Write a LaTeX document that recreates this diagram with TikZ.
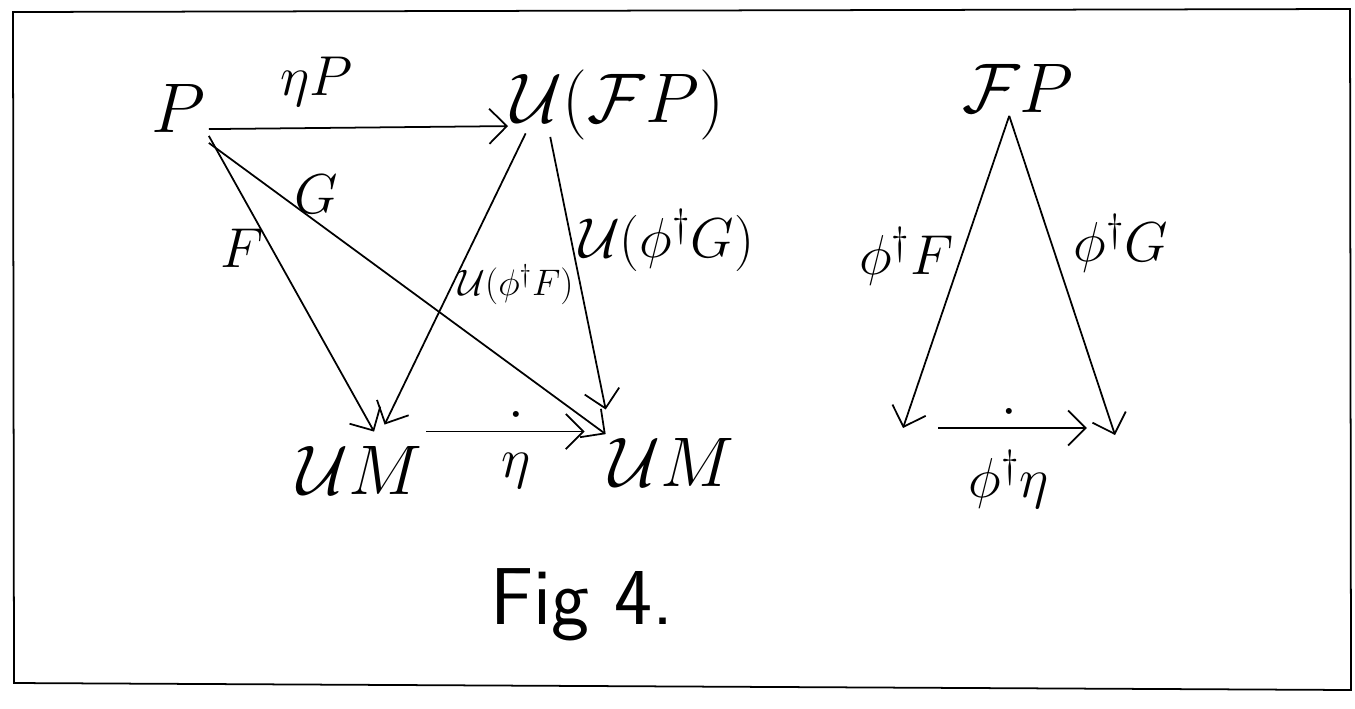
\RequirePackage{fix-cm}
\documentclass[tikz,border=0pt]{standalone}
\usetikzlibrary{arrows.meta}

\tikzset{
  obj/.style={font=\fontsize{40}{44}\selectfont, inner sep=2pt},
  lbl/.style={font=\fontsize{32}{36}\selectfont, inner sep=4pt},
  sml/.style={font=\fontsize{21}{25}\selectfont, inner sep=3pt},
  arr/.style={-{Straight Barb[length=10pt,width=20pt]}, line width=1pt},
}

\begin{document}
\begin{tikzpicture}[x=0.02cm,y=-0.02cm]
\useasboundingbox (0,0) rectangle (1355,708);
% frame
\draw[line width=1pt] (13,12) -- (1350,9) -- (1351,690) -- (14,683) -- cycle;

% left square
\node[obj] (P) at (178,108) {$P$};
\node[obj] (UFP) at (618,105) {$\mathcal{U}(\mathcal{F}P)$};
\node[obj] (UMl) at (360,470) {$\mathcal{U}M$};
\node[obj] (UMr) at (672,462) {$\mathcal{U}M$};

\draw[arr] ([yshift=-12pt]P.east) -- node[lbl,above=8pt,pos=.36] {$\eta P$} ([yshift=-12pt]UFP.west);
\draw[arr] (P.south east) -- node[lbl,left,pos=.38] {$F$} ([xshift=8pt,yshift=6pt]UMl.north);
\draw[arr] ([yshift=-4pt]P.south east) -- node[lbl,above,pos=.27] {$G$} (UMr.north west);
\draw[arr] ([xshift=10pt,yshift=6pt]UFP.south west) -- node[sml,anchor=west,pos=.52] {$\mathcal{U}(\phi^\dagger F)$} ([xshift=14pt,yshift=10pt]UMl.north);
\draw[arr] ([xshift=24pt,yshift=4pt]UFP.south west) -- node[lbl,right,pos=.38] {$\mathcal{U}(\phi^\dagger G)$} ([yshift=14pt]UMr.north west);
\draw[arr,shorten >=12pt] ([yshift=6pt]UMl.north east) -- node[lbl,above,inner sep=1pt] {$\cdot$} node[lbl,below=8pt] {$\eta$} ([yshift=6pt]UMl.north east -| UMr.west);

% right triangle
\node[obj] (FP) at (1018,88) {$\mathcal{F}P$};
\coordinate (bl) at (903,428);
\coordinate (br) at (1115,435);

\draw[arr] ([xshift=-5pt]FP.south) -- node[lbl,left,pos=.45] {$\phi^\dagger F$} (bl);
\draw[arr] ([xshift=-5pt]FP.south) -- node[lbl,right=8pt,pos=.4] {$\phi^\dagger G$} (br);
\draw[arr,shorten <=20pt,shorten >=16pt] (bl) -- node[lbl,above,inner sep=1pt] {$\cdot$} node[lbl,below=8pt] {$\phi^\dagger\eta$} (bl -| br);

\node[font=\fontsize{46}{50}\selectfont\sffamily] (fig) at (582,605) {Fig 4.};
\end{tikzpicture}
\end{document}
